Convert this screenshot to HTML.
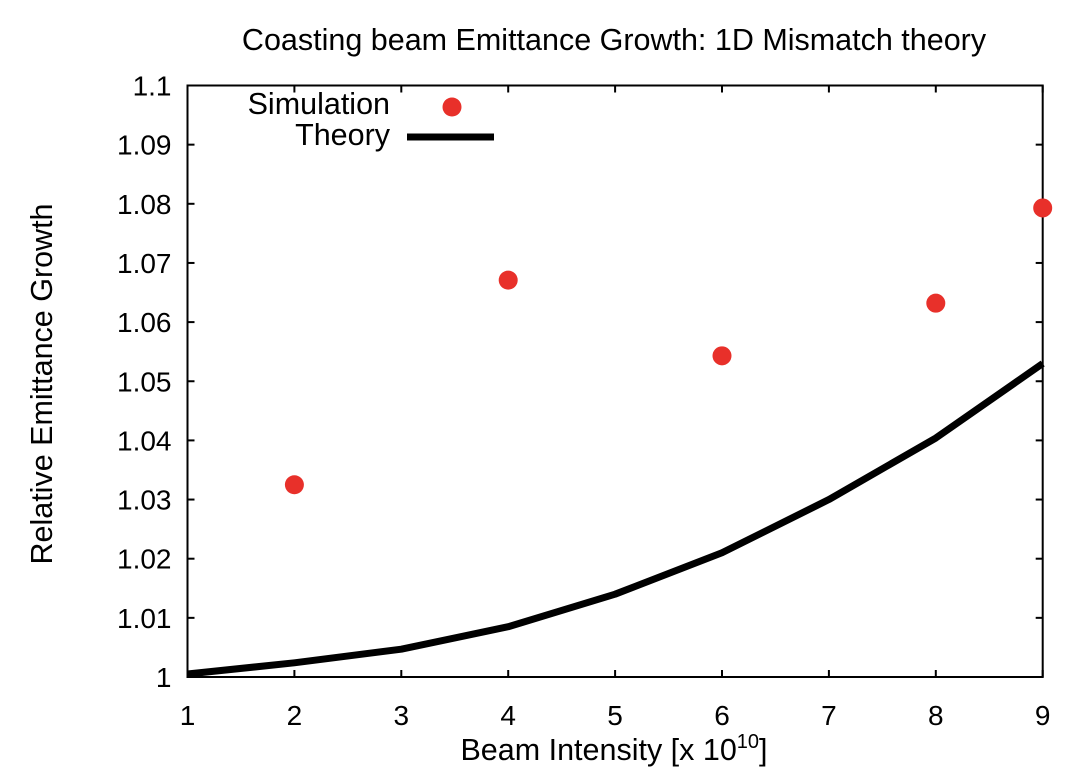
<!DOCTYPE html>
<html><head><meta charset="utf-8"><style>
body{margin:0;background:#fff;}
svg{display:block;font-family:"Liberation Sans",Arial,sans-serif;}
</style></head><body>
<svg id="chart" width="1076" height="784" xmlns="http://www.w3.org/2000/svg">
<text x="614" y="50" font-size="30.5" text-anchor="middle">Coasting beam Emittance Growth: 1D Mismatch theory</text>
<text transform="translate(52,384) rotate(-90)" font-size="30.5" text-anchor="middle">Relative Emittance Growth</text>
<text x="614" y="760" font-size="30.5" text-anchor="middle">Beam Intensity [x 10<tspan font-size="20" dy="-12">10</tspan><tspan dy="12">]</tspan></text>
<g id="axes"></g>
<g id="marks"></g>
<g>
<text x="390" y="114" font-size="30.5" text-anchor="end">Simulation</text>
<circle cx="452" cy="107" r="9.5" fill="#e8302a"/>
<text x="390" y="145" font-size="30.5" text-anchor="end">Theory</text>
<line x1="407" y1="137" x2="494" y2="137" stroke="#000" stroke-width="7"/>
</g>
</svg>
<script>
const xTicks=[1,2,3,4,5,6,7,8,9];
const yTicks=[1,1.01,1.02,1.03,1.04,1.05,1.06,1.07,1.08,1.09,1.1];
const yTickLabels=["1","1.01","1.02","1.03","1.04","1.05","1.06","1.07","1.08","1.09","1.1"];
const simX=[2,4,6,8,9];
const simY=[1.0325,1.0671,1.0543,1.0632,1.0793];
const theoryX=[1,2,3,4,5,6,7,8,9];
const theoryY=[1.0005,1.0024,1.0047,1.0085,1.014,1.021,1.030,1.0404,1.053];
const L=187.5,R=1042.7,T=85.5,B=677;
const sx=v=>L+(v-1)/(9-1)*(R-L);
const sy=v=>B-(v-1)/(0.1)*(B-T);
const NS="http://www.w3.org/2000/svg";
const axes=document.getElementById('axes'),marks=document.getElementById('marks');
function mk(t,a,p){const e=document.createElementNS(NS,t);for(const k in a)e.setAttribute(k,a[k]);p.appendChild(e);return e;}
const fr=mk('rect',{x:L,y:T,width:R-L,height:B-T,fill:'none',stroke:'#000','stroke-width':2},axes);


xTicks.forEach(v=>{const x=sx(v);
mk('line',{x1:x,y1:B,x2:x,y2:B-7,stroke:'#000','stroke-width':2},axes);
mk('line',{x1:x,y1:T,x2:x,y2:T+7,stroke:'#000','stroke-width':2},axes);
const t=mk('text',{x:x,y:B+48,'font-size':28,'text-anchor':'middle'},axes);t.textContent=v;

});
yTicks.forEach((v,i)=>{const y=sy(v);
mk('line',{x1:L,y1:y,x2:L+7,y2:y,stroke:'#000','stroke-width':2},axes);
mk('line',{x1:R,y1:y,x2:R-7,y2:y,stroke:'#000','stroke-width':2},axes);
const t=mk('text',{x:L-16,y:y+10,'font-size':28,'text-anchor':'end'},axes);t.textContent=yTickLabels[i];

});
const pl=mk('polyline',{points:theoryX.map((x,i)=>sx(x)+','+sy(theoryY[i])).join(' '),fill:'none',stroke:'#000','stroke-width':7,'stroke-linejoin':'round'},marks);


simX.forEach((x,i)=>{const c=mk('circle',{cx:sx(x),cy:sy(simY[i]),r:9.5,fill:'#e8302a'},marks);

});
</script>
</body></html>
